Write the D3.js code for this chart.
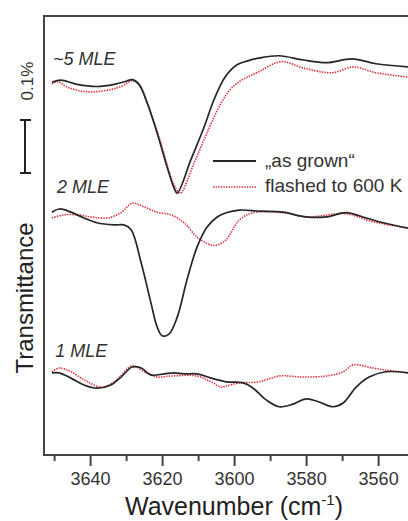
<!DOCTYPE html>
<html lang="en">
<head>
<meta charset="utf-8">
<script src="https://d3js.org/d3.v7.min.js"></script>
<style type="text/css">

body {
	margin: 0;
	background-color: #ffffff;
	font-family: Arial, "Liberation Sans", sans-serif;
}

.axis text {
	font: 18px Arial, "Liberation Sans", sans-serif;
	fill: #333;
}

.axis line {
	stroke: #444;
	stroke-width: 2;
}

.label {
	font-size: 18px;
	font-style: italic;
	fill: #333;
}

</style>
</head>
<body>
<script type="text/javascript">

// spectra: [wavenumber, transmittance %] (offsets included)
var grown5 = [[3650.6,0.703],[3648.1,0.707],[3643.6,0.699],[3638.1,0.695],[3633.3,0.699],[3630.0,0.705],
  [3628.3,0.708],[3626.4,0.699],[3624.2,0.665],[3621.4,0.608],[3618.6,0.543],[3616.7,0.504],[3615.8,0.494],
  [3612.0,0.557],[3608.3,0.619],[3605.6,0.670],[3602.5,0.713],[3599.2,0.736],[3596.4,0.743],[3592.8,0.749],
  [3587.5,0.753],[3580.8,0.745],[3574.4,0.740],[3567.2,0.747],[3560.6,0.738],[3551.7,0.732]];
var flashed5 = [[3650.6,0.700],[3648.9,0.704],[3646.4,0.694],[3640.8,0.685],[3634.4,0.689],[3631.1,0.696],
  [3628.1,0.706],[3626.1,0.696],[3623.9,0.660],[3620.6,0.594],[3616.9,0.513],[3615.0,0.494],[3611.1,0.551],
  [3607.5,0.608],[3603.6,0.664],[3601.1,0.689],[3598.6,0.704],[3593.1,0.723],[3586.9,0.742],[3580.8,0.730],
  [3572.8,0.721],[3566.9,0.732],[3560.6,0.721],[3551.7,0.713]];

var grown2 = [[3650.6,0.458],[3648.6,0.464],[3645.3,0.458],[3641.7,0.447],[3638.1,0.438],[3633.3,0.434],
  [3630.6,0.434],[3628.6,0.425],[3625.8,0.362],[3623.1,0.287],[3621.4,0.242],[3620.0,0.225],[3618.1,0.228],
  [3615.8,0.260],[3613.1,0.330],[3610.3,0.392],[3607.5,0.430],[3604.7,0.449],[3602.2,0.457],[3598.6,0.462],
  [3593.1,0.460],[3586.4,0.458],[3580.0,0.449],[3574.4,0.449],[3568.9,0.457],[3563.3,0.447],[3558.6,0.438],
  [3551.7,0.428]];
var flashed2 = [[3650.6,0.447],[3647.2,0.453],[3643.6,0.453],[3639.7,0.449],[3635.3,0.447],[3631.4,0.457],
  [3628.3,0.475],[3625.0,0.468],[3621.4,0.458],[3617.5,0.453],[3613.9,0.438],[3610.3,0.411],[3606.4,0.396],
  [3604.7,0.396],[3602.2,0.406],[3598.6,0.443],[3594.7,0.457],[3586.4,0.457],[3580.0,0.449],[3568.9,0.455],
  [3561.4,0.440],[3551.7,0.428]];

var grown1 = [[3650.6,0.155],[3648.6,0.155],[3645.3,0.145],[3641.7,0.132],[3638.1,0.126],[3634.2,0.132],
  [3631.4,0.147],[3628.3,0.166],[3625.8,0.164],[3623.1,0.151],[3619.4,0.153],[3616.7,0.155],[3613.9,0.153],
  [3610.3,0.153],[3606.4,0.145],[3602.2,0.138],[3597.5,0.136],[3594.7,0.126],[3591.1,0.104],[3587.5,0.091],
  [3583.6,0.096],[3580.0,0.106],[3576.4,0.100],[3572.5,0.091],[3569.7,0.098],[3566.1,0.128],[3562.5,0.147],
  [3557.8,0.157],[3551.7,0.155]];
var flashed1 = [[3650.6,0.157],[3648.6,0.164],[3645.3,0.157],[3641.7,0.142],[3636.9,0.128],[3633.3,0.138],
  [3628.3,0.168],[3625.0,0.157],[3621.4,0.147],[3617.5,0.149],[3610.3,0.149],[3606.4,0.138],[3603.6,0.128],
  [3602.2,0.130],[3598.6,0.136],[3593.1,0.138],[3587.5,0.149],[3580.8,0.147],[3574.4,0.149],[3569.7,0.157],
  [3566.9,0.170],[3561.4,0.164],[3557.8,0.160],[3551.7,0.155]];

var coverageLabels = ["~5 MLE", "2 MLE", "1 MLE"];
var coverageLabelPos = [[3650.3, 0.736], [3649.2, 0.494], [3649.7, 0.185]]; // where each label sits
var legendLabels = ["\u201Eas grown\u201C", "flashed to 600 K"];
var majorTicks = [3640, 3620, 3600, 3580, 3560];
var minorTicks = [3650, 3630, 3610, 3590, 3570];
var scaleBar = 0.1; // %

var width = 408;
var height = 521;

var x = d3.scaleLinear()
  .domain([3652.8, 3551.7])
  .range([44, 408]);

var y = d3.scaleLinear()
  .domain([0, 0.828])
  .range([455, 16]);

var svg = d3.select("body")
  .append("svg")
  .attr("width", width)
  .attr("height", height);

var line = d3.line()
  .x(function(d) { return x(d[0]); })
  .y(function(d) { return y(d[1]); })
  .curve(d3.curveCatmullRom.alpha(0.5));

// frame (right side is cut off in the original)
svg.append("path")
  .attr("d", "M" + width + "," + y(0.828) + "H" + x(3652.8) + "V" + y(0) + "H" + width)
  .style("fill", "none")
  .style("stroke", "#444")
  .style("stroke-width", 2);

// ticks
svg.append("g")
  .attr("class", "axis")
  .attr("transform", "translate(0," + y(0) + ")")
  .call(d3.axisBottom(x).tickValues(majorTicks).tickSize(11).tickPadding(6).tickFormat(d3.format("d")))
  .call(function(g) { g.select(".domain").remove(); });

svg.append("g")
  .attr("class", "axis")
  .attr("transform", "translate(0," + y(0) + ")")
  .call(d3.axisBottom(x).tickValues(minorTicks).tickSize(6).tickFormat(""))
  .call(function(g) { g.select(".domain").remove(); });

// spectra
var spectra = [grown5, grown2, grown1];
var flashedSpectra = [flashed5, flashed2, flashed1];

svg.selectAll(".flashed")
  .data(flashedSpectra)
  .enter()
  .append("path")
  .attr("class", "flashed")
  .attr("d", line)
  .style("fill", "none")
  .style("stroke", "#dc2a36")
  .style("stroke-width", 1.6)
  .style("stroke-dasharray", "1.4,1.2");

svg.selectAll(".grown")
  .data(spectra)
  .enter()
  .append("path")
  .attr("class", "grown")
  .attr("d", line)
  .style("fill", "none")
  .style("stroke", "#262626")
  .style("stroke-width", 1.7);

// coverage labels
svg.selectAll(".label")
  .data(coverageLabels)
  .enter()
  .append("text")
  .attr("class", "label")
  .attr("x", function(d, i) { return x(coverageLabelPos[i][0]); })
  .attr("y", function(d, i) { return y(coverageLabelPos[i][1]); })
  .text(function(d) { return d; });

// legend
var legend = svg.append("g");
legend.append("line")
  .attr("x1", 213).attr("x2", 256).attr("y1", 161).attr("y2", 161)
  .style("stroke", "#262626").style("stroke-width", 1.8);
legend.append("line")
  .attr("x1", 213).attr("x2", 256).attr("y1", 187).attr("y2", 187)
  .style("stroke", "#dc2a36").style("stroke-width", 1.6).style("stroke-dasharray", "1.4,1.2");
legend.selectAll("text")
  .data(legendLabels)
  .enter()
  .append("text")
  .attr("x", 265)
  .attr("y", function(d, i) { return 167 + i * 25; })
  .style("font-size", "19px")
  .style("fill", "#333")
  .text(function(d) { return d; });

// scale bar 0.1 %
var barTop = 120;
var barBottom = barTop + (y(0) - y(scaleBar));
var bar = svg.append("g").style("stroke", "#222").style("stroke-width", 2);
bar.append("line").attr("x1", 25).attr("x2", 25).attr("y1", barTop).attr("y2", barBottom);
bar.append("line").attr("x1", 20).attr("x2", 31).attr("y1", barTop).attr("y2", barTop);
bar.append("line").attr("x1", 20).attr("x2", 31).attr("y1", barBottom).attr("y2", barBottom);

svg.append("text")
  .attr("transform", "translate(33,81) rotate(-90)")
  .attr("text-anchor", "middle")
  .style("font-size", "17px")
  .style("fill", "#333")
  .text(scaleBar + "%");

// axis titles
svg.append("text")
  .attr("transform", "translate(33,298) rotate(-90)")
  .attr("text-anchor", "middle")
  .style("font-size", "24px")
  .style("fill", "#222")
  .text("Transmittance");

var xt = svg.append("text")
  .attr("x", 234)
  .attr("y", 515)
  .attr("text-anchor", "middle")
  .style("font-size", "25px")
  .style("fill", "#222");
xt.append("tspan").text("Wavenumber (cm");
xt.append("tspan").attr("dy", -10).style("font-size", "15px").text("-1");
xt.append("tspan").attr("dy", 10).text(")");

</script>
</body>
</html>
